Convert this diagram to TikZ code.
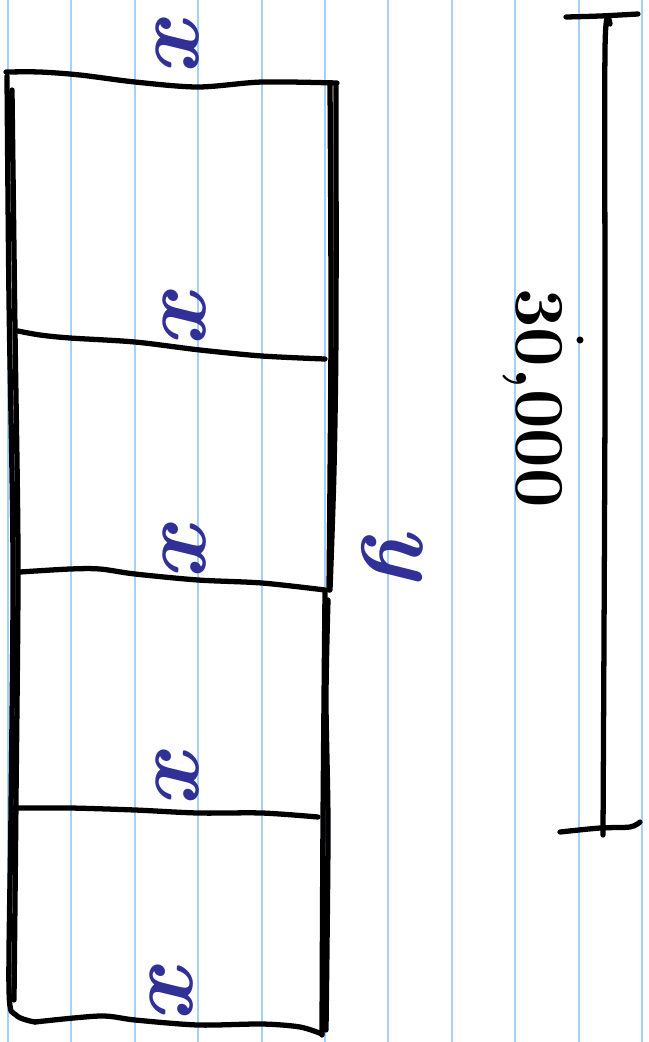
\documentclass[tikz,border=0pt]{standalone}
\usepackage{fontspec}
\definecolor{ink}{RGB}{48,48,150}
\definecolor{rule}{RGB}{165,208,250}
\tikzset{pen/.style={line width=3pt,line cap=round,line join=round},
  lbl/.style={text=ink,font=\fontsize{54}{54}\selectfont\bfseries\itshape,rotate=-90,inner sep=0pt},
  num/.style={font=\fontsize{40}{40}\selectfont\bfseries,rotate=-90,inner sep=0pt}}

\begin{document}
\begin{tikzpicture}[x=0.02cm,y=-0.02cm]
  \useasboundingbox (0,0) rectangle (649,1042);
  \foreach \i in {0,...,10}
    \draw[rule,line width=1.1pt] ({8+63.4*\i},0) -- ({8+63.4*\i},1042);
  % the strip
  \draw[pen] plot[smooth] coordinates {(6,72) (40,72) (80,75) (135,82) (198,87) (262,82) (337,83)};
  \draw[pen] plot[smooth] coordinates {(7,76) (9,300) (13,560) (11,810) (9,990) (16,1015) (35,1022)};
  \draw[pen] plot[smooth] coordinates {(12,90) (15,330) (18,560) (16,800) (14,1000)};
  \draw[pen] plot[smooth] coordinates {(330,84) (331,330) (329,590)};
  \draw[pen] plot[smooth] coordinates {(336,86) (336,330) (334,470) (330,590)};
  \draw[pen] plot[smooth] coordinates {(325,592) (323,820) (322,1035)};
  \draw[pen] plot[smooth] coordinates {(328,600) (326,700) (328,830) (326,1030)};
  \draw[pen] plot[smooth] coordinates {(18,331) (40,335) (70,338) (135,342) (200,350) (262,356) (325,359)};
  \draw[pen] plot[smooth] coordinates {(20,572) (70,569) (100,569) (135,574) (198,580) (262,583) (325,590)};
  \draw[pen] plot[smooth] coordinates {(12,808) (70,808) (135,810) (198,813) (262,813) (318,817)};
  \draw[pen] plot[smooth] coordinates {(35,1022) (100,1016) (135,1020) (198,1025) (262,1024) (300,1027) (322,1034)};
  % the side length
  \draw[pen] plot[smooth] coordinates {(610,24) (605,50) (605,400) (603,835)};
  \draw[pen] plot[smooth] coordinates {(566,17) (600,16) (638,14)};
  \draw[pen] plot[smooth] coordinates {(560,832) (600,828) (630,827) (640,822)};
  \fill (580,340) circle (2pt);
  \node[lbl] (xa) at (178,38) {x};
  \node[lbl] (xb) at (185,310) {x};
  \node[lbl] (xc) at (185,543) {x};
  \node[lbl] (xd) at (178,770) {x};
  \node[lbl] (xe) at (172,985) {x};
  \node[lbl] (wd) at (392,552) {y};
  \node[num] (total) at (533,398) {30,000};
\end{tikzpicture}
\end{document}
